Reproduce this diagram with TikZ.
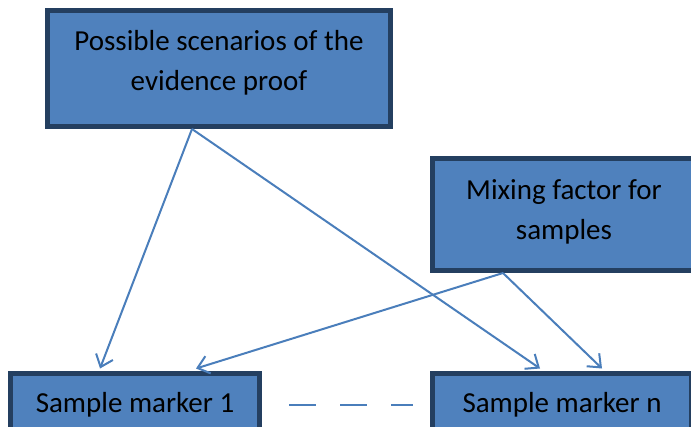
\documentclass[tikz,border=0pt]{standalone}
\usepackage{fontspec}
\setmainfont{Carlito}
\usetikzlibrary{arrows.meta, positioning, calc}
\definecolor{boxfill}{HTML}{4F81BD}
\definecolor{boxline}{HTML}{243F60}
\definecolor{arrline}{HTML}{4A7EBB}

\begin{document}
\begin{tikzpicture}[x=1pt, y=-1pt,
    box/.style={rectangle, draw=boxline, fill=boxfill, line width=5pt, align=center, inner sep=0pt, font=\fontsize{29}{40}\selectfont},
    arr/.style={draw=arrline, line width=2pt, -{Straight Barb[length=11pt, width=18pt]}}]
    \clip (0,0) rectangle (691,426);

    \node[box, minimum width=343pt, minimum height=116pt, text depth=16pt] (scen) at (219,68.5) {Possible scenarios of the\\evidence proof};
    \node[box, minimum width=263pt, minimum height=112pt, text depth=10pt] (mix) at (564,214.5) {Mixing factor for\\samples};
    \node[box, minimum width=249pt, minimum height=64pt] (mark1) at (135,405) {Sample marker 1};
    \node[box, minimum width=259pt, minimum height=64pt] (markn) at (562,405) {Sample marker n};

    \draw[arr] ([xshift=-27pt]scen.south) -- ([xshift=-35pt, yshift=2pt]mark1.north);
    \draw[arr] ([xshift=-27pt]scen.south) -- ([xshift=-22pt, yshift=2pt]markn.north);
    \draw[arr] ([xshift=-61pt]mix.south) -- ([xshift=61pt, yshift=2pt]mark1.north);
    \draw[arr] ([xshift=-61pt]mix.south) -- ([xshift=40pt, yshift=2pt]markn.north);

    \draw[draw=arrline, line width=2pt, dash pattern=on 27pt off 24pt, shorten <=27pt, shorten >=17pt] (mark1.east) -- (markn.west);
\end{tikzpicture}
\end{document}
